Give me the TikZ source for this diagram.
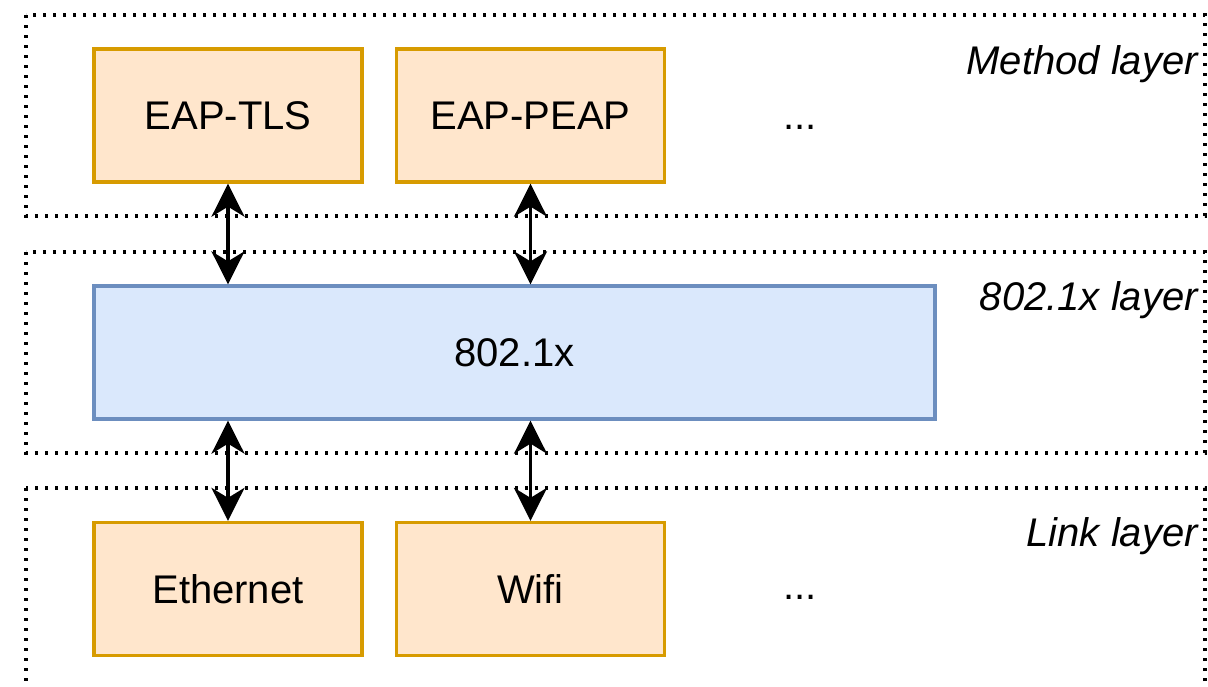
\documentclass[tikz,border=0pt]{standalone}
\usepackage{fontspec}
\setmainfont{Liberation Sans}
\usetikzlibrary{arrows.meta}

\definecolor{methodfill}{HTML}{FFE6CC}
\definecolor{methodline}{HTML}{D79B00}
\definecolor{corefill}{HTML}{DAE8FC}
\definecolor{coreline}{HTML}{6C8EBF}

\begin{document}
\begin{tikzpicture}[x=1pt,y=-1pt,
  layer/.style={draw=black, line width=3.3pt, dash pattern=on 3.3pt off 6.7pt},
  layerlabel/.style={font=\fontsize{40}{48}\selectfont\itshape, inner sep=0pt, anchor=base east},
  boxtext/.style={font=\fontsize{40}{48}\selectfont, inner sep=0pt},
  orangebox/.style={boxtext, draw=methodline, fill=methodfill, line width=3.3pt,
    minimum width=268pt, minimum height=133pt},
  bluebox/.style={boxtext, draw=coreline, fill=corefill, line width=3.3pt,
    minimum width=841pt, minimum height=133pt},
  dots/.style={boxtext, anchor=base},
  conn/.style={draw=black, line width=3.5pt,
    {Stealth[length=33pt, width=33pt, inset=10pt]}-{Stealth[length=33pt, width=33pt, inset=10pt]}}
]
\clip (0,0) rectangle (1208,686);

% layer frames
\draw[layer] (26,15) rectangle (1205,216);
\draw[layer] (26,252) rectangle (1205,453);
\draw[layer] (26,488) rectangle (1205,720);

\node[layerlabel] (lmethod) at (1198,74) {Method layer};
\node[layerlabel] (lcore) at (1198,310) {802.1x layer};
\node[layerlabel] (llink) at (1198,546) {Link layer};

% method layer
\node[orangebox] (tls) at (228,115.5) {EAP-TLS};
\node[orangebox] (peap) at (530.5,115.5) {EAP-PEAP};
\node[dots] (mdots) at (800,129) {...};

% 802.1x layer
\node[bluebox] (dotx) at (514.5,352.5) {802.1x};

% link layer
\node[orangebox] (eth) at (228,589) {Ethernet};
\node[orangebox] (wifi) at (530.5,589) {Wifi};
\node[dots] (ldots) at (800,599) {...};

% connectors
\draw[conn] (tls.south) -- (tls.south |- dotx.north);
\draw[conn] (peap.south) -- (peap.south |- dotx.north);
\draw[conn] (eth.north |- dotx.south) -- (eth.north);
\draw[conn] (wifi.north |- dotx.south) -- (wifi.north);
\end{tikzpicture}
\end{document}
